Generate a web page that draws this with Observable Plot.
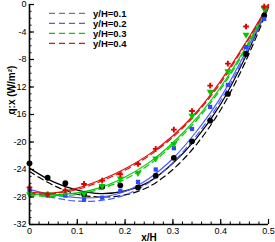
<!DOCTYPE html>
<html><head><meta charset="utf-8">
<script src="https://cdn.jsdelivr.net/npm/d3@7"></script>
<script src="https://cdn.jsdelivr.net/npm/@observablehq/plot@0.6"></script>
<style>
body{margin:0;background:#fff;font-family:"Liberation Sans",Arial,sans-serif;}
#wrap{position:relative;width:275px;height:242px;}
#legend{position:absolute;left:0;top:0;}
</style></head>
<body><div id="wrap"></div>
<script>
const seriesNames = ["y/H=0.1","y/H=0.2","y/H=0.3","y/H=0.4"];
const colors = ["#000000","#3346ff","#00c800","#e00000"];
const lineColors = ["#000000","#4a5cff","#00cc00","#e01010"];
const symbols = ["circle","square","triangle","cross"];
const rotations = [0,0,180,0];
const radii = [2.9,2.4,2.6,2.4];

// measured points
const xMeas = [0,0.038,0.075,0.114,0.152,0.19,0.227,0.264,0.302,0.34,0.378,0.415,0.453,0.491];
const meas01 = [-23.1,-25.2,-26.0,-27.6,-26.5,-26.3,-26.6,-24.9,-22.3,-19.9,-16.9,-13.0,-7.2,-1.6];
const meas02 = [-27.0,-27.8,-27.8,-28.4,-28.1,-27.1,-25.8,-24.0,-20.9,-18.1,-14.9,-11.7,-6.2,-2.1];
const meas03 = [-27.6,-27.6,-27.3,-27.5,-26.4,-25.3,-24.5,-22.4,-20.3,-16.2,-12.7,-9.7,-4.4,-0.6];
const meas04 = [-26.6,-27.6,-27.0,-26.1,-25.6,-24.7,-23.2,-21.0,-18.2,-15.5,-11.8,-8.6,-3.2,-0.3];

// curves (solid & dashed)
const xCurve = [0,0.05,0.1,0.15,0.2,0.25,0.3,0.35,0.4,0.45,0.5];
const solid01 = [-23.8,-25.8,-27.0,-27.5,-27.1,-25.8,-23.1,-19.4,-14.5,-7.9,0];
const dash01  = [-24.3,-26.3,-27.6,-28.0,-27.7,-26.5,-24.0,-20.3,-15.3,-8.6,-0.4];
const solid02 = [-26.9,-27.7,-28.1,-28.0,-27.2,-25.3,-22.4,-18.4,-13.5,-7.2,0];
const dash02  = [-27.3,-28.1,-28.6,-28.5,-27.7,-25.9,-23.0,-19.0,-14.0,-7.6,-0.3];
const solid03 = [-27.6,-27.7,-27.4,-26.6,-25.1,-23.0,-20.1,-16.5,-12.0,-6.5,0];
const dash03  = [-27.8,-27.9,-27.6,-26.8,-25.4,-23.3,-20.4,-16.8,-12.3,-6.8,-0.2];
const solid04 = [-27.3,-27.4,-26.7,-25.5,-23.9,-21.8,-19.1,-15.6,-11.1,-5.8,0];
const dash04  = [-27.5,-27.5,-26.9,-25.7,-24.1,-22.0,-19.3,-15.8,-11.4,-6.0,-0.2];

const xDomain = [0,0.5];
const yDomain = [-32,0];
const xTicks = [0,0.1,0.2,0.3,0.4,0.5];
const yTicks = [-32,-28,-24,-20,-16,-12,-8,-4,0];
const xMinor = d3.range(0,0.5001,0.02);
const yMinor = d3.range(-32,0.001,1);

const meas = [meas01,meas02,meas03,meas04];
const solids = [solid01,solid02,solid03,solid04];
const dashes = [dash01,dash02,dash03,dash04];

const pts = [], sl = [], dl = [];
meas.forEach((arr,i)=>arr.forEach((v,j)=>pts.push({x:xMeas[j],y:v,s:i})));
solids.forEach((arr,i)=>arr.forEach((v,j)=>sl.push({x:xCurve[j],y:v,s:i})));
dashes.forEach((arr,i)=>arr.forEach((v,j)=>dl.push({x:xCurve[j],y:v,s:i})));

const marks = [];
for (let i=0;i<4;i++){
  marks.push(Plot.line(sl.filter(d=>d.s===i),{x:"x",y:"y",stroke:lineColors[i],strokeWidth:1.2,curve:"catmull-rom"}));
  marks.push(Plot.line(dl.filter(d=>d.s===i),{x:"x",y:"y",stroke:lineColors[i],strokeWidth:1.2,strokeDasharray:"6,4",curve:"catmull-rom"}));
}
for (let i=0;i<4;i++){
  marks.push(Plot.dot(pts.filter(d=>d.s===i),{x:"x",y:"y",fill:colors[i],stroke:"none",symbol:symbols[i],rotate:rotations[i],r:radii[i]}));
}

const chart = Plot.plot({
  width:275,height:242,
  marginLeft:29,marginRight:7,marginTop:4,marginBottom:18,
  style:{fontFamily:"'Liberation Sans',Arial,sans-serif",fontSize:"9px",color:"#000",background:"#fff"},
  x:{domain:xDomain},
  y:{domain:yDomain},
  marks:[
    ...marks,
    Plot.axisX({ticks:xMinor,tickSize:-2.5,fill:"none",label:null,strokeWidth:1}),
    Plot.axisX({ticks:xTicks,tickSize:-5,fill:"none",label:null,strokeWidth:1.2}),
    Plot.axisX({ticks:xTicks,tickSize:0,tickPadding:3,label:null,tickFormat:d=>String(d)}),
    Plot.axisY({ticks:yMinor,tickSize:-2.5,fill:"none",label:null,strokeWidth:1}),
    Plot.axisY({ticks:yTicks,tickSize:-5,fill:"none",label:null,strokeWidth:1.2}),
    Plot.axisY({ticks:yTicks,tickSize:0,tickPadding:3,label:null,tickFormat:d=>String(d)}),
    Plot.ruleX([xDomain[0]],{stroke:"#000",strokeWidth:1.6}),
    Plot.ruleY([yDomain[0]],{stroke:"#000",strokeWidth:1.6}),
    Plot.text(["x/H"],{frameAnchor:"bottom",dy:16,fontWeight:"bold",fontSize:10}),
    Plot.text(["q:x (W/m²)"],{frameAnchor:"left",dx:-18,rotate:-90,fontWeight:"bold",fontSize:10})
  ]
});
const wrap = document.getElementById("wrap");
wrap.appendChild(chart);

// legend overlay
const leg = d3.select(wrap).append("svg").attr("id","legend").attr("width",275).attr("height",60);
seriesNames.forEach((n,i)=>{
  const y = 13.3 + i*10;
  leg.append("line").attr("x1",49).attr("x2",88).attr("y1",y).attr("y2",y)
    .attr("stroke",i===0?"#777":lineColors[i]).attr("stroke-width",1.3).attr("stroke-dasharray","6,4");
  leg.append("text").attr("x",93).attr("y",y+3.3).text(n)
    .attr("font-family","'Liberation Sans',Arial,sans-serif").attr("font-size",9.5).attr("font-weight","bold");
});
</script></body></html>
